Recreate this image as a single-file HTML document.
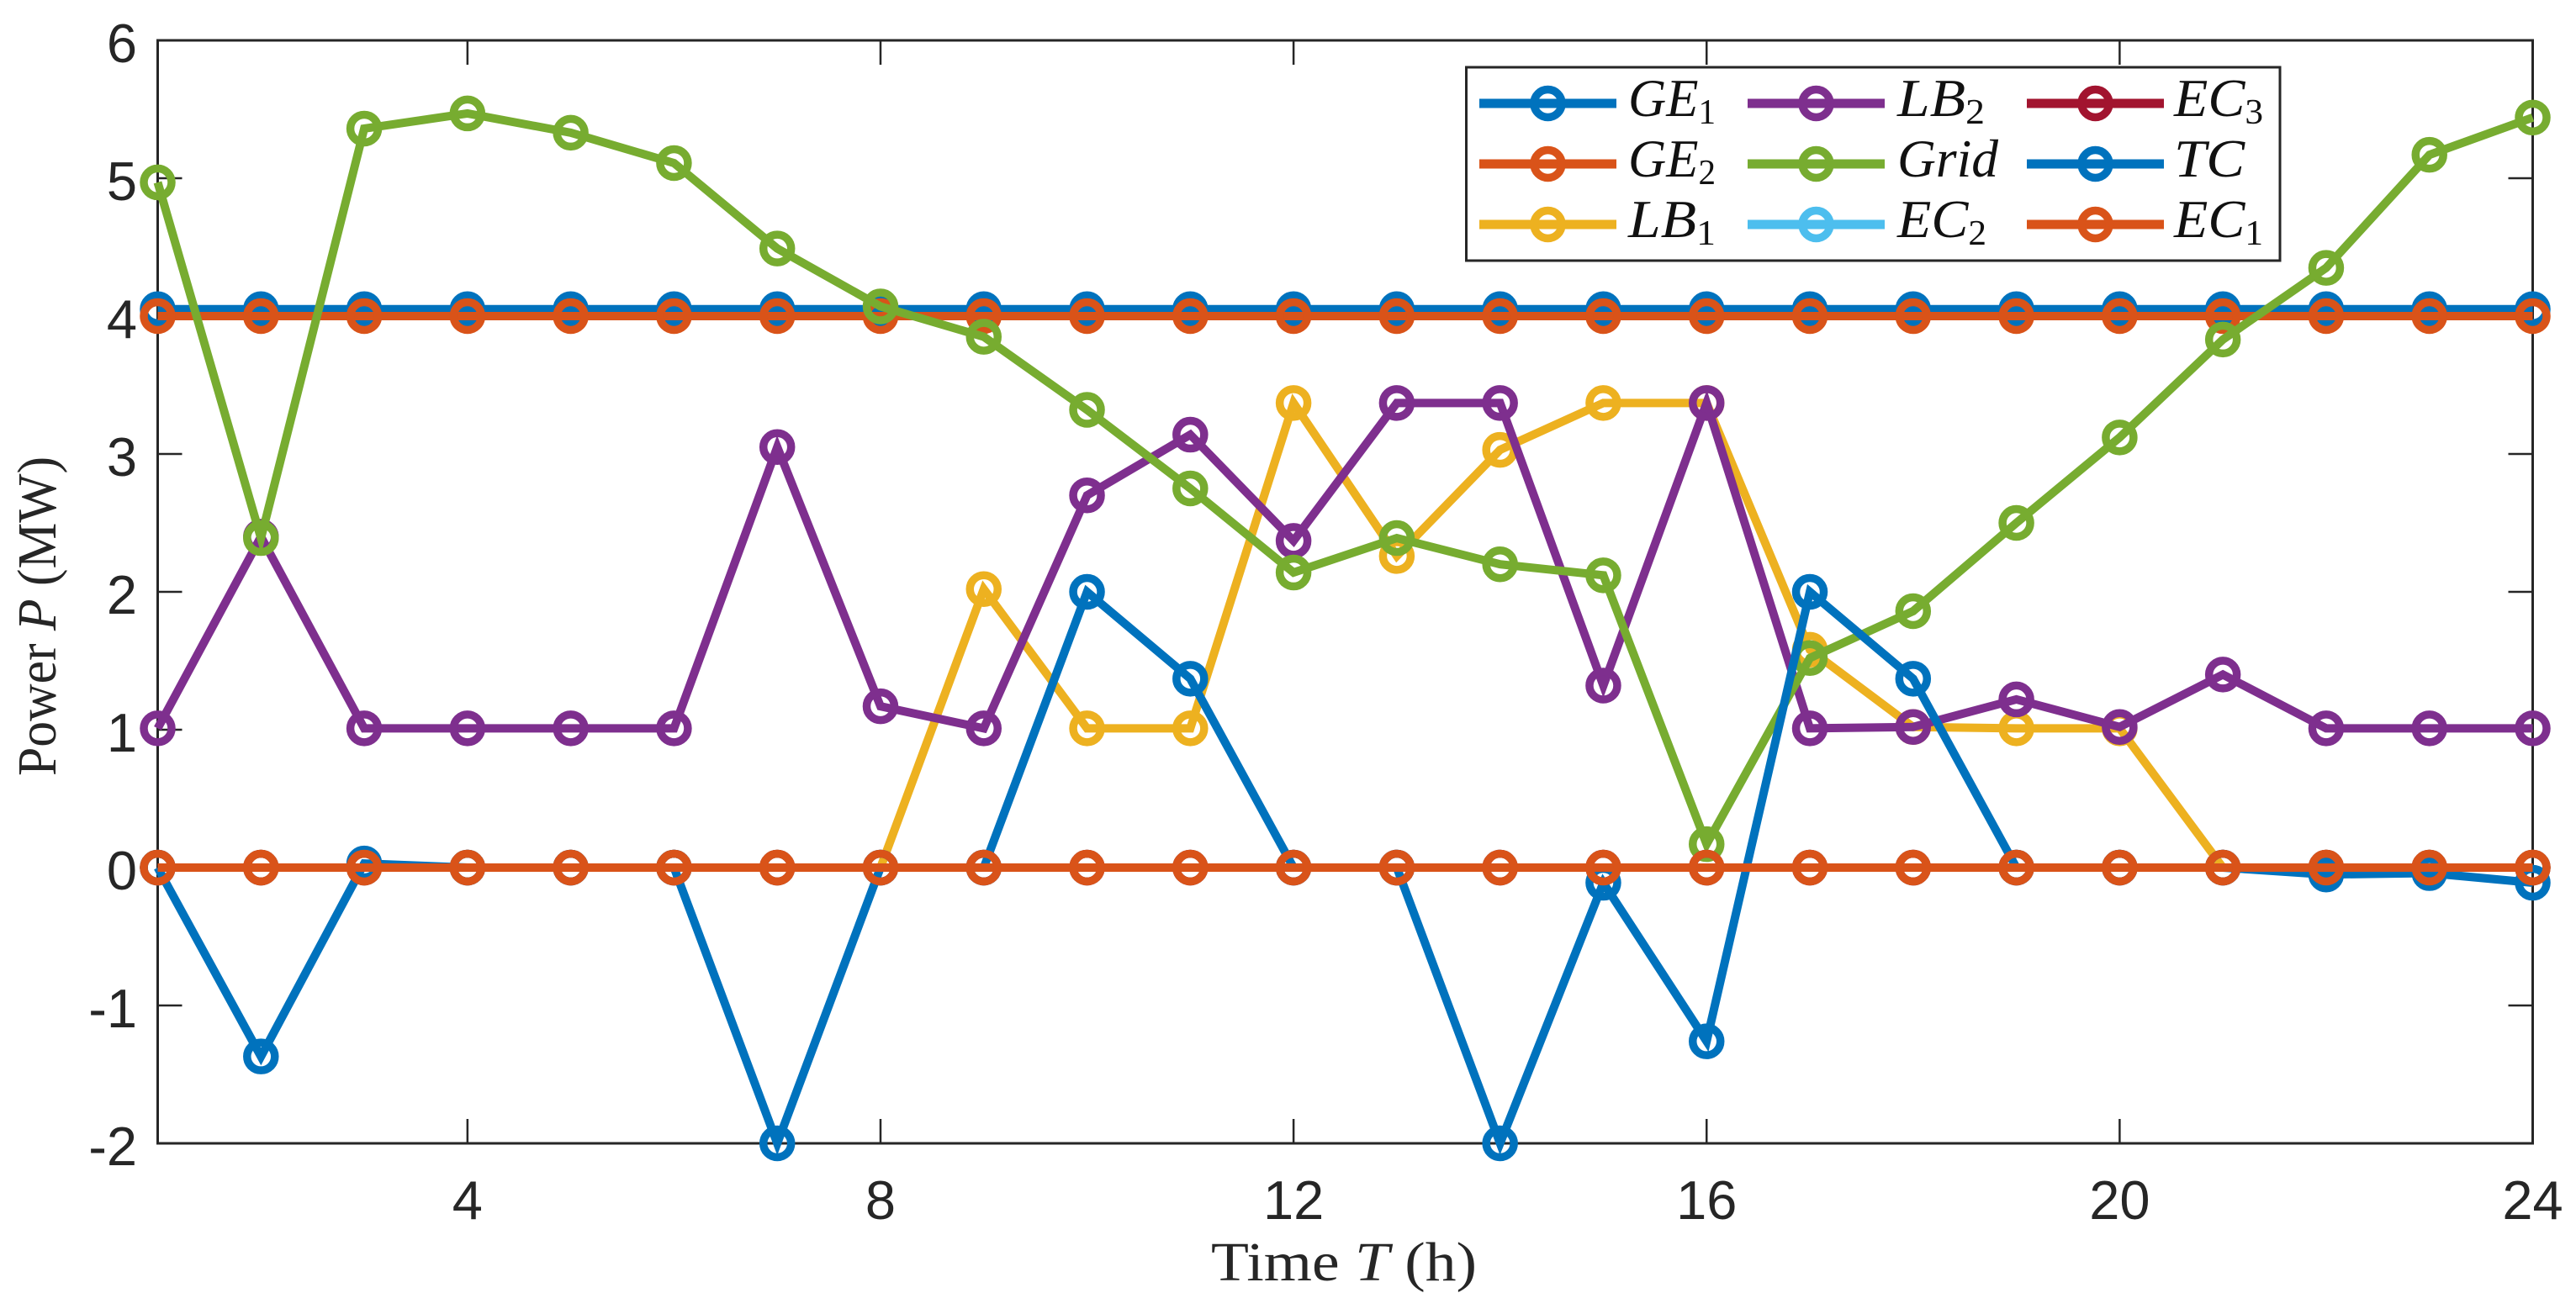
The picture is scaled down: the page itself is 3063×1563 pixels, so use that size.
<!DOCTYPE html>
<html lang="en">
<head>
<meta charset="utf-8">
<title>Power chart</title>
<style>
html,body{margin:0;padding:0;background:#fff;}
svg{display:block;}
.tick-label{font-family:"Liberation Sans",sans-serif;font-size:65px;fill:#262626;}
.axis-title{font-family:"Liberation Serif",serif;font-size:66px;fill:#262626;}
.legend-text{font-family:"Liberation Serif",serif;font-size:64px;font-style:italic;fill:#111;}
</style>
</head>
<body>
<svg id="chart" xmlns="http://www.w3.org/2000/svg" width="3063" height="1563" viewBox="0 0 3063 1563">
  <rect x="0" y="0" width="3063" height="1563" fill="#fff"/>
  <g id="ticks"></g>
  <rect x="187.5" y="48" width="2824" height="1312" fill="none" stroke="#262626" stroke-width="3"/>
  <g id="series"></g>
  <g id="legend"></g>
  <text class="axis-title" x="1440" y="1523" textLength="316" lengthAdjust="spacingAndGlyphs">Time <tspan font-style="italic">T</tspan> (h)</text>
  <text class="axis-title" transform="translate(66,923) rotate(-90)" textLength="380" lengthAdjust="spacingAndGlyphs">Power <tspan font-style="italic">P</tspan> (MW)</text>
</svg>
<script>
const hours = [1,2,3,4,5,6,7,8,9,10,11,12,13,14,15,16,17,18,19,20,21,22,23,24];
const xTicks = [4,8,12,16,20,24];
const yTicks = [-2,-1,0,1,2,3,4,5,6];

const ge1 = [4.05,4.05,4.05,4.05,4.05,4.05,4.05,4.05,4.05,4.05,4.05,4.05,4.05,4.05,4.05,4.05,4.05,4.05,4.05,4.05,4.05,4.05,4.05,4.05];
const ge2 = [4,4,4,4,4,4,4,4,4,4,4,4,4,4,4,4,4,4,4,4,4,4,4,4];
const lb1 = [0,0,0,0,0,0,0,0,2.02,1.01,1.01,3.37,2.26,3.03,3.37,3.37,1.58,1.02,1.01,1.01,0,0,0,0];
const lb2 = [1.01,2.4,1.01,1.01,1.01,1.01,3.05,1.17,1.01,2.7,3.14,2.37,3.37,3.37,1.32,3.37,1.01,1.02,1.22,1.02,1.4,1.01,1.01,1.01];
const grid = [4.97,2.39,5.36,5.47,5.33,5.11,4.49,4.07,3.85,3.32,2.75,2.14,2.39,2.2,2.12,0.17,1.52,1.86,2.5,3.12,3.83,4.35,5.17,5.44];
const ec2 = [0,0,0,0,0,0,0,0,0,0,0,0,0,0,0,0,0,0,0,0,0,0,0,0];
const ec3 = [0,0,0,0,0,0,0,0,0,0,0,0,0,0,0,0,0,0,0,0,0,0,0,0];
const tc = [0,-1.37,0.03,0,0,0,-2,0,0,2,1.37,0,0,-2,-0.11,-1.26,2,1.37,0,0,0,-0.05,-0.04,-0.11];
const ec1 = [0,0,0,0,0,0,0,0,0,0,0,0,0,0,0,0,0,0,0,0,0,0,0,0];

const seriesNames = ['ge1','ge2','lb1','lb2','grid','ec2','ec3','tc','ec1'];
const seriesValues = [ge1,ge2,lb1,lb2,grid,ec2,ec3,tc,ec1];
const seriesColors = ['#0072BD','#D95319','#EDB120','#7E2F8E','#77AC30','#4DBEEE','#A2142F','#0072BD','#D95319'];
const legendMain = ['GE','GE','LB','LB','Grid','EC','EC','TC','EC'];
const legendSub = ['1','2','1','2','','2','3','','1'];

const NS = 'http://www.w3.org/2000/svg';
const plotLeft = 187.5, plotRight = 3011.5, plotTop = 48, plotBottom = 1360;
function xScale(v){ return plotLeft + (v - 1) / 23 * (plotRight - plotLeft); }
function yScale(v){ return plotBottom - (v + 2) / 8 * (plotBottom - plotTop); }
function make(tag){ return document.createElementNS(NS, tag); }

const tickGroup = document.getElementById('ticks');
xTicks.forEach(function(t){
  const x = xScale(t);
  [[plotBottom, plotBottom - 29], [plotTop, plotTop + 29]].forEach(function(p){
    const l = make('line');
    
    
    l.setAttribute('x1', x); l.setAttribute('x2', x);
    l.setAttribute('y1', p[0]); l.setAttribute('y2', p[1]);
    l.setAttribute('stroke', '#262626'); l.setAttribute('stroke-width', '2.5');
    tickGroup.appendChild(l);
  });
  const lab = make('text');
  
  
  lab.setAttribute('class', 'tick-label');
  lab.setAttribute('x', x);
  lab.setAttribute('y', 1450);
  lab.setAttribute('text-anchor', 'middle');
  lab.textContent = String(t);
  tickGroup.appendChild(lab);
});
yTicks.forEach(function(t){
  const y = yScale(t);
  [[plotLeft, plotLeft + 29], [plotRight, plotRight - 29]].forEach(function(p){
    const l = make('line');
    
    
    l.setAttribute('y1', y); l.setAttribute('y2', y);
    l.setAttribute('x1', p[0]); l.setAttribute('x2', p[1]);
    l.setAttribute('stroke', '#262626'); l.setAttribute('stroke-width', '2.5');
    tickGroup.appendChild(l);
  });
  const lab = make('text');
  
  
  lab.setAttribute('class', 'tick-label');
  lab.setAttribute('x', 163);
  lab.setAttribute('y', y + 26);
  lab.setAttribute('text-anchor', 'end');
  lab.textContent = String(t);
  tickGroup.appendChild(lab);
});

const seriesGroup = document.getElementById('series');
seriesValues.forEach(function(vals, s){
  const g = make('g');
  
  
  const line = make('polyline');
  
  
  line.setAttribute('points', vals.map(function(v, i){ return xScale(hours[i]) + ',' + yScale(v); }).join(' '));
  line.setAttribute('fill', 'none');
  line.setAttribute('stroke', seriesColors[s]);
  line.setAttribute('stroke-width', '10');
  line.setAttribute('stroke-linejoin', 'miter');
  g.appendChild(line);
  vals.forEach(function(v, i){
    const c = make('circle');
    
    
    c.setAttribute('cx', xScale(hours[i]));
    c.setAttribute('cy', yScale(v));
    c.setAttribute('r', 16.5);
    c.setAttribute('fill', 'none');
    c.setAttribute('stroke', seriesColors[s]);
    c.setAttribute('stroke-width', '9.5');
    g.appendChild(c);
  });
  seriesGroup.appendChild(g);
});

const legendGroup = document.getElementById('legend');
const box = make('rect');


box.setAttribute('x', 1743.5);
box.setAttribute('y', 80);
box.setAttribute('width', 967.5);
box.setAttribute('height', 230);
box.setAttribute('fill', '#fff');
box.setAttribute('stroke', '#262626');
box.setAttribute('stroke-width', '3');
legendGroup.appendChild(box);
const colStart = [1759, 2078, 2410];
const colText = [1936, 2256, 2585];
const rowY = [123, 195, 267];
const labelWidth = {GE:104, LB:104, EC:106, TC:84, Grid:120};
seriesNames.forEach(function(name, i){
  const col = Math.floor(i / 3), row = i % 3;
  const g = make('g');
  
  
  const l = make('line');
  
  
  l.setAttribute('x1', colStart[col]);
  l.setAttribute('x2', colStart[col] + 163);
  l.setAttribute('y1', rowY[row]);
  l.setAttribute('y2', rowY[row]);
  l.setAttribute('stroke', seriesColors[i]);
  l.setAttribute('stroke-width', '11');
  g.appendChild(l);
  const c = make('circle');
  
  
  c.setAttribute('cx', colStart[col] + 81.5);
  c.setAttribute('cy', rowY[row]);
  c.setAttribute('r', 16.5);
  c.setAttribute('fill', 'none');
  c.setAttribute('stroke', seriesColors[i]);
  c.setAttribute('stroke-width', '9.5');
  g.appendChild(c);
  const t = make('text');
  
  
  t.setAttribute('class', 'legend-text');
  t.setAttribute('x', colText[col]);
  t.setAttribute('y', rowY[row] + 15);
  t.setAttribute('textLength', labelWidth[legendMain[i]]);
  t.setAttribute('lengthAdjust', 'spacingAndGlyphs');
  t.appendChild(document.createTextNode(legendMain[i]));
  if (legendSub[i]) {
    const sub = make('tspan');
    sub.setAttribute('font-size', '42');
    sub.setAttribute('font-style', 'normal');
    sub.setAttribute('dy', '9');
    sub.textContent = legendSub[i];
    t.appendChild(sub);
  }
  g.appendChild(t);
  legendGroup.appendChild(g);
});
</script>
</body>
</html>
